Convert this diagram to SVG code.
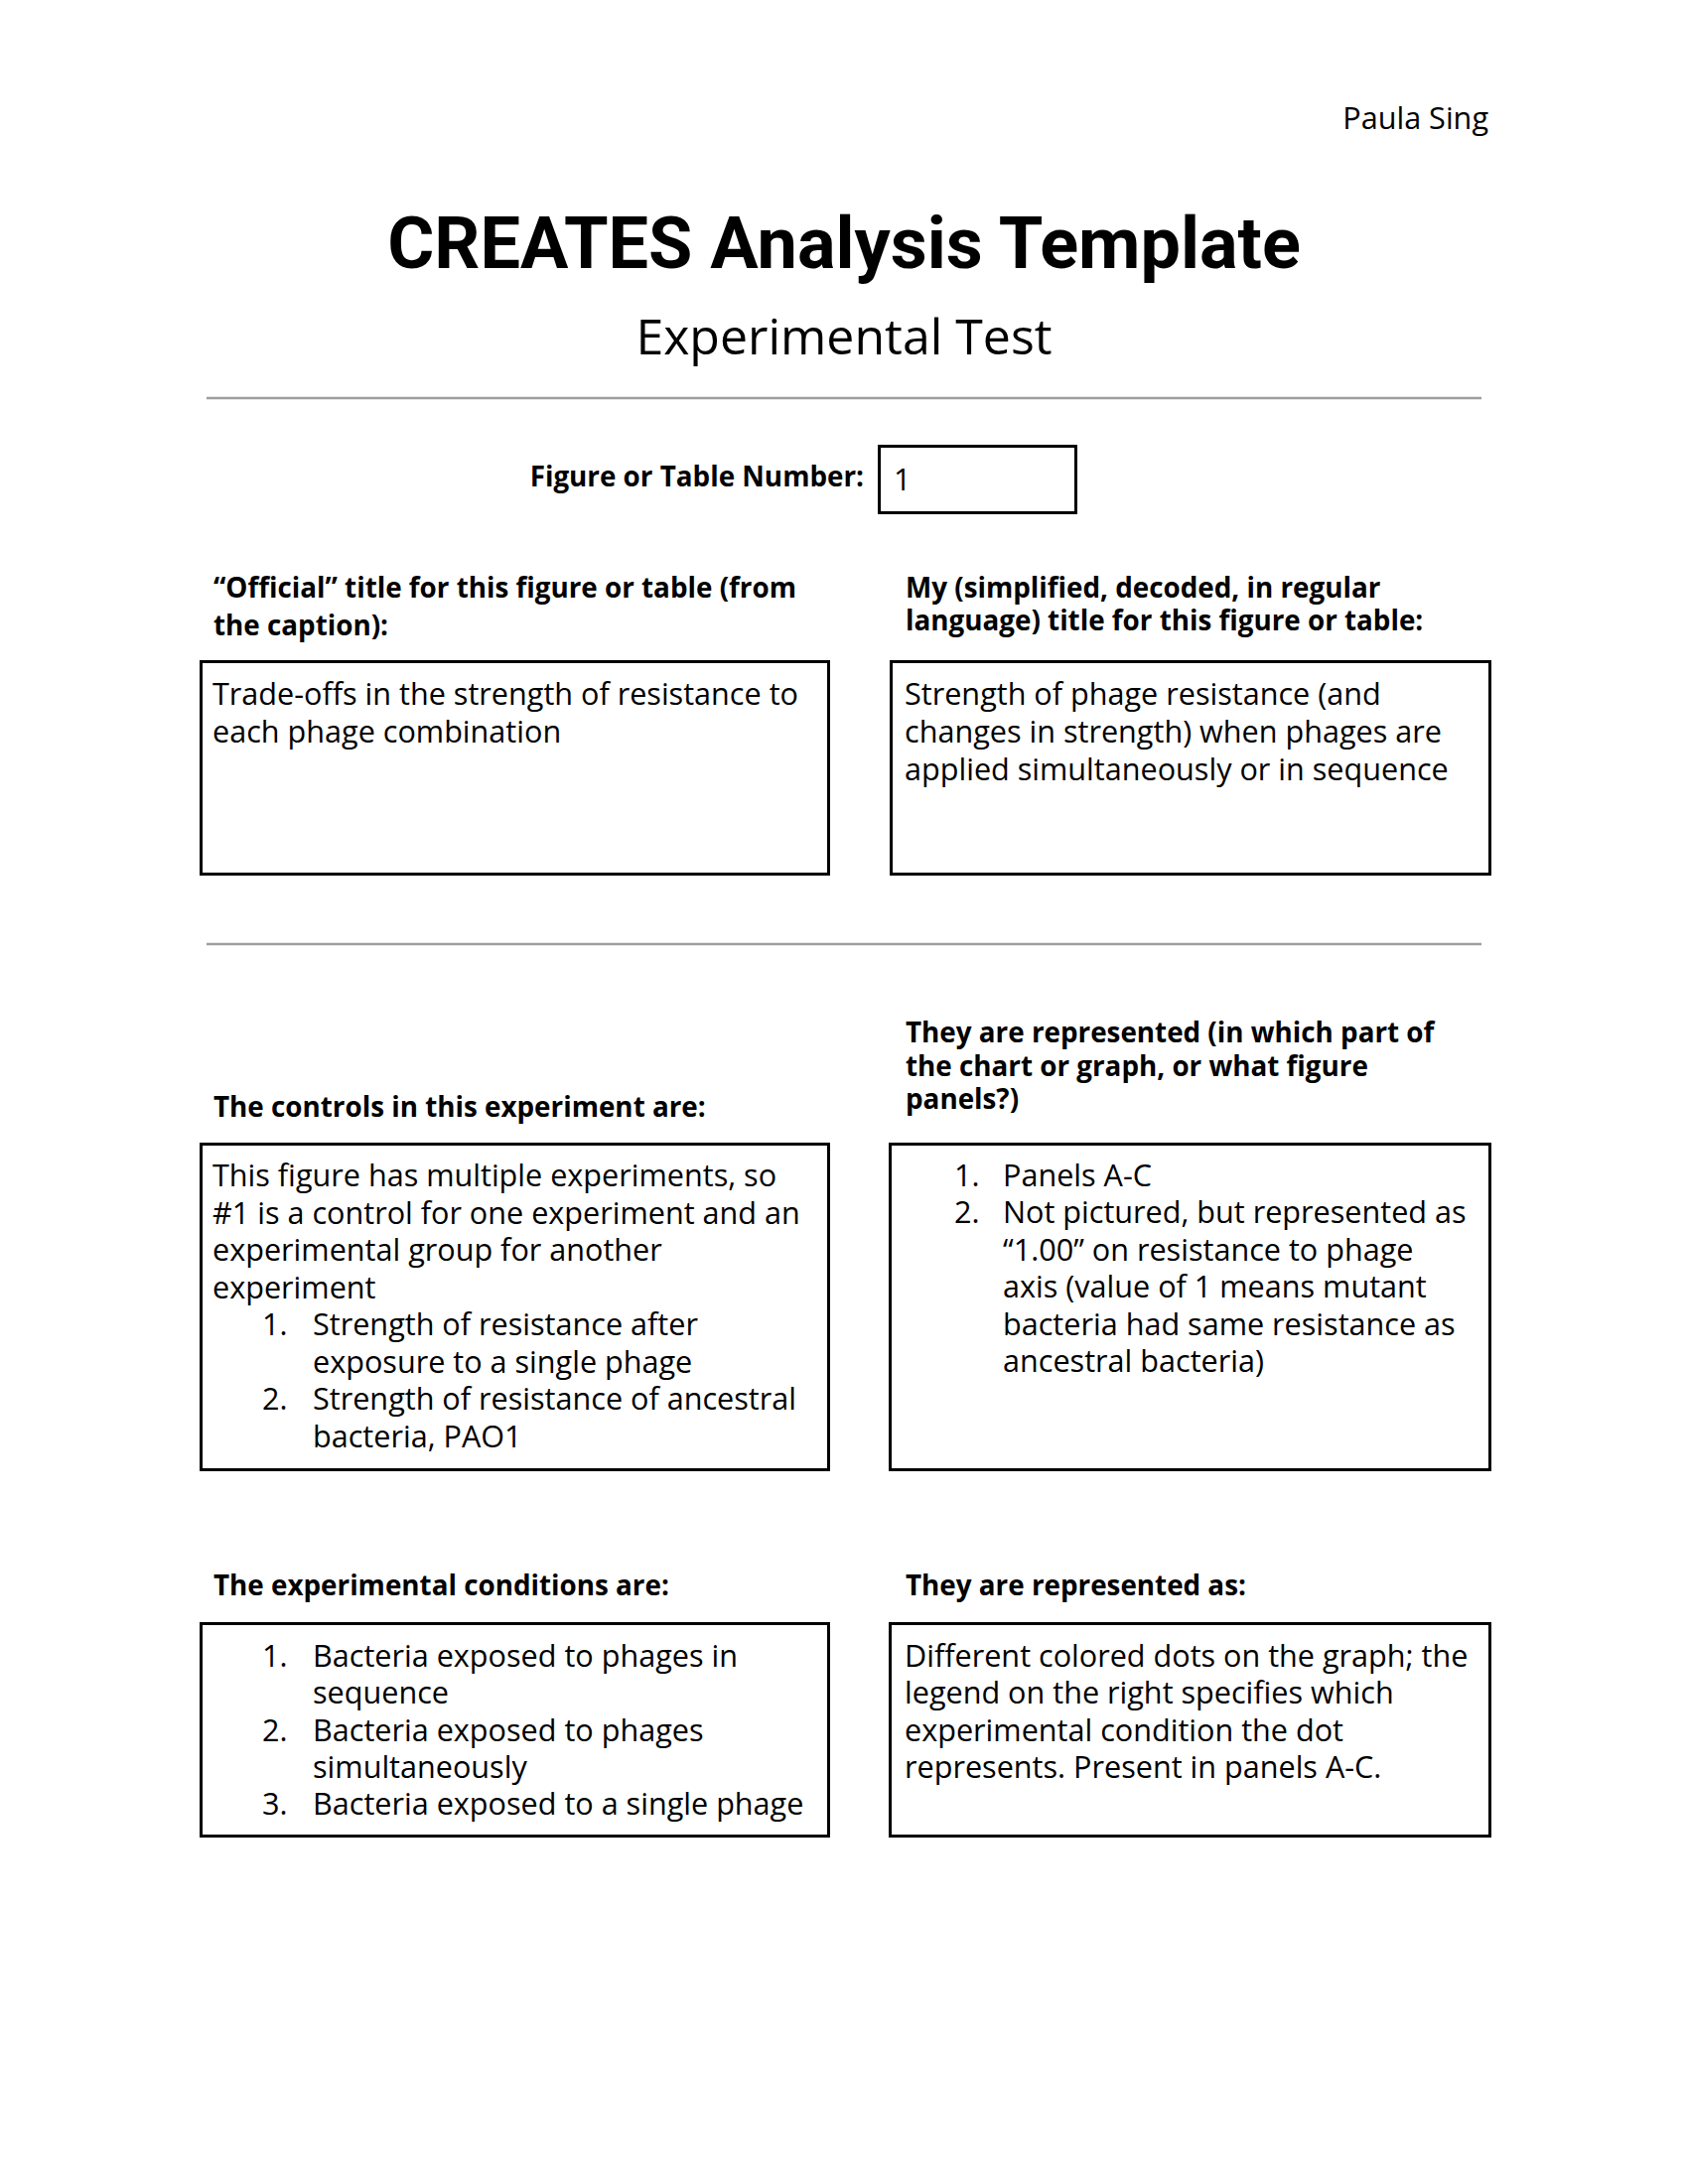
<svg xmlns="http://www.w3.org/2000/svg" width="1700" height="2200" viewBox="0 0 1700 2200">
<style>
.bg{fill:#ffffff}
.t{font-family:"Open Sans","Liberation Sans",sans-serif;font-size:30.6px;fill:#000}
.b{font-family:"Open Sans","Liberation Sans",sans-serif;font-size:27.8px;font-weight:700;fill:#000}
.box{fill:none;stroke:#000;stroke-width:3}
.rule{stroke:#9e9e9e;stroke-width:2.5}
</style>
<rect class="bg" x="0" y="0" width="1700" height="2200"/>
<g id="header">
<text class="t" x="1499" y="130" text-anchor="end">Paula Sing</text>
<text x="850" y="270" text-anchor="middle" style="font-family:Roboto,'Liberation Sans',sans-serif;font-weight:700;font-size:72px;fill:#000">CREATES Analysis Template</text>
<text class="t" x="850" y="357" text-anchor="middle" style="font-size:50px">Experimental Test</text>
</g>
<g id="rules">
<line class="rule" x1="208" y1="401" x2="1492" y2="401"/>
<line class="rule" x1="208" y1="951" x2="1492" y2="951"/>
</g>
<g id="figure-number">
<text class="b" x="870" y="490" text-anchor="end">Figure or Table Number:</text>
<rect class="box" x="885.5" y="449.5" width="198" height="67"/>
<text class="t" x="900" y="494">1</text>
</g>
<g id="official-title">
<text class="b" x="215" y="602">“Official” title for this figure or table (from</text>
<text class="b" x="215" y="639.5">the caption):</text>
<rect class="box" x="202.5" y="666.5" width="632" height="214"/>
<text class="t" x="214" y="710">Trade-offs in the strength of resistance to</text>
<text class="t" x="214" y="748">each phage combination</text>
</g>
<g id="my-title">
<text class="b" x="912" y="602">My (simplified, decoded, in regular</text>
<text class="b" x="912" y="634.5">language) title for this figure or table:</text>
<rect class="box" x="897.5" y="666.5" width="603" height="214"/>
<text class="t" x="911" y="710">Strength of phage resistance (and</text>
<text class="t" x="911" y="748">changes in strength) when phages are</text>
<text class="t" x="911" y="786">applied simultaneously or in sequence</text>
</g>
<g id="controls">
<text class="b" x="215" y="1125">The controls in this experiment are:</text>
<rect class="box" x="202.5" y="1152.5" width="632" height="328"/>
<text class="t" x="214" y="1195">This figure has multiple experiments, so</text>
<text class="t" x="214" y="1233">#1 is a control for one experiment and an</text>
<text class="t" x="214" y="1270">experimental group for another</text>
<text class="t" x="214" y="1308">experiment</text>
<text class="t" x="264" y="1345">1.</text>
<text class="t" x="315" y="1345">Strength of resistance after</text>
<text class="t" x="315" y="1383">exposure to a single phage</text>
<text class="t" x="264" y="1420">2.</text>
<text class="t" x="315" y="1420">Strength of resistance of ancestral</text>
<text class="t" x="315" y="1458">bacteria, PAO1</text>
</g>
<g id="controls-represented">
<text class="b" x="912" y="1050">They are represented (in which part of</text>
<text class="b" x="912" y="1083.5">the chart or graph, or what figure</text>
<text class="b" x="912" y="1117">panels?)</text>
<rect class="box" x="896.5" y="1152.5" width="604" height="328"/>
<text class="t" x="961" y="1195">1.</text>
<text class="t" x="1010" y="1195">Panels A-C</text>
<text class="t" x="961" y="1232">2.</text>
<text class="t" x="1010" y="1232">Not pictured, but represented as</text>
<text class="t" x="1010" y="1270">“1.00” on resistance to phage</text>
<text class="t" x="1010" y="1307">axis (value of 1 means mutant</text>
<text class="t" x="1010" y="1345">bacteria had same resistance as</text>
<text class="t" x="1010" y="1382">ancestral bacteria)</text>
</g>
<g id="conditions">
<text class="b" x="215" y="1607">The experimental conditions are:</text>
<rect class="box" x="202.5" y="1635.5" width="632" height="214"/>
<text class="t" x="264" y="1679">1.</text>
<text class="t" x="315" y="1679">Bacteria exposed to phages in</text>
<text class="t" x="315" y="1716">sequence</text>
<text class="t" x="264" y="1754">2.</text>
<text class="t" x="315" y="1754">Bacteria exposed to phages</text>
<text class="t" x="315" y="1791">simultaneously</text>
<text class="t" x="264" y="1828">3.</text>
<text class="t" x="315" y="1828">Bacteria exposed to a single phage</text>
</g>
<g id="conditions-represented">
<text class="b" x="912" y="1607">They are represented as:</text>
<rect class="box" x="896.5" y="1635.5" width="604" height="214"/>
<text class="t" x="911" y="1679">Different colored dots on the graph; the</text>
<text class="t" x="911" y="1716">legend on the right specifies which</text>
<text class="t" x="911" y="1754">experimental condition the dot</text>
<text class="t" x="911" y="1791">represents. Present in panels A-C.</text>
</g>
</svg>
